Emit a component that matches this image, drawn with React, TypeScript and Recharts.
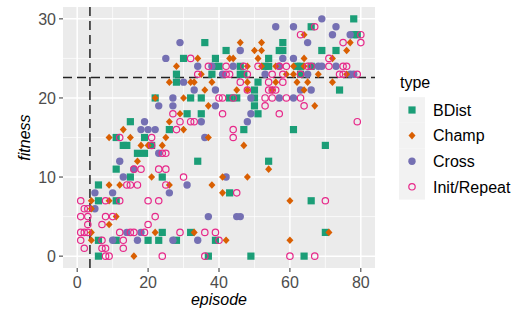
import React from "react";
import {
  ScatterChart,
  Scatter,
  XAxis,
  YAxis,
  CartesianGrid,
  ReferenceLine,
} from "recharts";

// [episode, fitness]
const bdist: [number, number][] = [
  [6, 0], [37, 0], [49, 0], [64, 0],
  [6, 2], [11, 2], [20, 2], [23, 2], [28, 2], [39, 2],
  [24, 3], [32, 3], [70, 3],
  [6, 7], [11, 7], [66, 7],
  [43, 8], [6, 9], [15, 10], [24, 10], [11, 11],
  [34, 12], [54, 12], [17, 13], [19, 13],
  [13, 14], [14, 14], [21, 14], [70, 14],
  [11, 15], [19, 15], [47, 16], [61, 16], [26, 16], [15, 17],
  [31, 18], [35, 18], [51, 18], [50, 19],
  [22, 20], [32, 20], [35, 20], [43, 20], [45, 20], [50, 20],
  [50, 21], [74, 21], [28, 22], [51, 22],
  [28, 23], [38, 23], [46, 23], [47, 23], [63, 23],
  [39, 24], [40, 24], [46, 24], [53, 24], [54, 24], [62, 24], [63, 24], [66, 24],
  [30, 25], [39, 25], [54, 25],
  [42, 26], [57, 26], [58, 26], [69, 26], [73, 26],
  [36, 27], [58, 27], [66, 29], [78, 28], [79, 28], [78, 30],
];

const champ: [number, number][] = [
  [16, 0], [4, 2], [42, 2], [60, 2],
  [4, 3], [22, 3], [33, 3], [71, 3],
  [9, 4], [11, 5], [4, 6], [4, 7], [9, 7], [60, 7], [41, 8],
  [9, 9], [12, 9], [26, 9], [38, 9],
  [21, 10], [41, 10], [48, 10], [54, 11], [17, 12],
  [18, 14], [20, 14], [24, 14], [47, 14],
  [9, 15], [15, 15], [25, 15], [37, 15],
  [13, 16], [30, 16], [26, 17], [29, 18],
  [37, 19], [67, 19], [22, 20], [30, 20],
  [36, 21], [45, 21], [48, 21], [55, 21], [64, 21],
  [26, 22], [32, 22], [33, 22], [38, 22], [48, 22], [56, 22], [62, 22], [65, 22], [72, 22],
  [35, 23], [59, 23], [61, 23], [68, 23], [76, 23],
  [28, 24], [48, 24], [52, 24], [56, 24], [61, 24], [64, 24],
  [34, 25], [43, 25], [44, 25], [51, 25], [64, 25], [72, 25],
  [50, 26], [52, 26], [76, 26],
  [46, 27], [52, 27], [77, 27], [64, 28],
];

const cross: [number, number][] = [
  [10, 2], [17, 2], [27, 2], [34, 2], [14, 3], [18, 3],
  [37, 5], [45, 5], [46, 5], [5, 6],
  [5, 8], [10, 8], [26, 8], [31, 9],
  [13, 10], [42, 10], [16, 11], [12, 12], [23, 13], [36, 15],
  [18, 16], [20, 16], [22, 16],
  [19, 17], [35, 17], [48, 17], [49, 18],
  [23, 19], [27, 19], [39, 19],
  [27, 20], [49, 20], [57, 20], [61, 20],
  [33, 21], [39, 21], [63, 21], [66, 21], [30, 22],
  [41, 23], [53, 23], [65, 23], [77, 23], [78, 23],
  [34, 24], [38, 24], [44, 24], [57, 24], [68, 24], [69, 24], [73, 24],
  [25, 25], [58, 25], [61, 25], [46, 26],
  [29, 27], [65, 27], [72, 28], [77, 28],
  [56, 29], [61, 29], [73, 29], [69, 30],
];

const initRepeat: [number, number][] = [
  [8, 0], [9, 0], [24, 0], [36, 0], [60, 0], [67, 0],
  [2, 1], [7, 1], [8, 1], [13, 1],
  [1, 2], [7, 2], [13, 2], [40, 2],
  [1, 3], [2, 3], [3, 3], [12, 3], [15, 3], [16, 3], [19, 3], [29, 3], [36, 3], [39, 3],
  [3, 4], [7, 4], [20, 4],
  [1, 5], [3, 5], [8, 5], [10, 5], [22, 5],
  [2, 6], [3, 6],
  [1, 7], [8, 7], [12, 7], [20, 7], [23, 7], [70, 7],
  [45, 8], [14, 9], [15, 9], [17, 9], [25, 9], [30, 10],
  [16, 11], [18, 11], [23, 11], [25, 11], [24, 13], [25, 13],
  [21, 14], [12, 15], [21, 15], [44, 15],
  [28, 16], [44, 16], [29, 17], [32, 17], [33, 17], [79, 17],
  [27, 18], [41, 18], [57, 18], [53, 19], [64, 19],
  [40, 20], [41, 20], [44, 20], [53, 20], [55, 20], [59, 20], [63, 20],
  [48, 21], [54, 21], [55, 21], [56, 21],
  [46, 22], [54, 22], [58, 22],
  [34, 23], [42, 23], [43, 23], [48, 23], [55, 23], [58, 23], [63, 23], [74, 23], [75, 23], [79, 23],
  [37, 24], [42, 24], [47, 24], [51, 24], [57, 24], [59, 24], [65, 24], [66, 24], [71, 24], [75, 24], [76, 24],
  [32, 25], [71, 25], [75, 27], [80, 27], [63, 28], [80, 28], [67, 29],
];

const typeNames = ["BDist", "Champ", "Cross", "Init/Repeat"];
const xTicks = [0, 20, 40, 60, 80];
const yTicks = [0, 10, 20, 30];
const xMinor = [10, 30, 50, 70];
const yMinor = [5, 15, 25];
const episodeCut = 3.6;
const fitnessCut = 22.6;

const FONT = "'Liberation Sans', Arial, Helvetica, sans-serif";
const colors = ["#1B9E77", "#D95F02", "#7570B3", "#E7298A"];

const toPoints = (pairs: [number, number][]) => pairs.map(([x, y]) => ({ x, y }));

function Marker({ kind, cx, cy }: { kind: number; cx: number; cy: number }) {
  if (kind === 0)
    return <rect x={cx - 3.6} y={cy - 3.6} width={7.2} height={7.2} fill={colors[0]} />;
  if (kind === 1)
    return (
      <polygon
        points={`${cx},${cy - 3.8} ${cx + 3.5},${cy} ${cx},${cy + 3.8} ${cx - 3.5},${cy}`}
        fill={colors[1]}
      />
    );
  if (kind === 2) return <circle cx={cx} cy={cy} r={3.7} fill={colors[2]} />;
  return <circle cx={cx} cy={cy} r={3.2} fill="none" stroke={colors[3]} strokeWidth={1.2} />;
}

const shapeFor = (kind: number) => (props: any) =>
  <Marker kind={kind} cx={props.cx} cy={props.cy} />;

const tickStyle = { fontSize: 16, fill: "#4D4D4D", fontFamily: FONT };

export default function App() {
  const series = [bdist, champ, cross, initRepeat];
  const drawOrder = [0, 2, 1, 3];
  return (
    <div style={{ position: "absolute", left: 0, top: 0, width: 526, height: 316, background: "#fff" }}>
      <ScatterChart
        width={526}
        height={316}
        margin={{ top: 7, right: 151, bottom: 18, left: 23 }}
      >
        <CartesianGrid
          fill="#EBEBEB"
          stroke="#FFFFFF"
          strokeWidth={0.7}
          horizontalValues={yMinor}
          verticalValues={xMinor}
        />
        <CartesianGrid
          stroke="#FFFFFF"
          strokeWidth={1.5}
          horizontalValues={yTicks}
          verticalValues={xTicks}
        />
        <XAxis
          type="number"
          dataKey="x"
          domain={[-4, 84]}
          ticks={xTicks}
          allowDataOverflow
          height={30}
          axisLine={false}
          tickSize={4}
          tickMargin={5}
          tickLine={{ stroke: "#333333" }}
          tick={tickStyle}
        />
        <YAxis
          type="number"
          dataKey="y"
          domain={[-1.5, 31.5]}
          ticks={yTicks}
          allowDataOverflow
          width={40}
          axisLine={false}
          tickSize={4}
          tickMargin={3}
          tickLine={{ stroke: "#333333" }}
          tick={tickStyle}
        />
        {drawOrder.map((k) => (
          <Scatter
            key={typeNames[k]}
            name={typeNames[k]}
            data={toPoints(series[k])}
            shape={shapeFor(k)}
            isAnimationActive={false}
          />
        ))}
        <ReferenceLine x={episodeCut} stroke="#222" strokeWidth={1.5} strokeDasharray="9 5" />
        <ReferenceLine y={fitnessCut} stroke="#222" strokeWidth={1.5} strokeDasharray="9 5" />
      </ScatterChart>
      <svg
        width={526}
        height={316}
        style={{ position: "absolute", left: 0, top: 0, pointerEvents: "none" }}
        fontFamily={FONT}
      >
        <text x={219} y={305} textAnchor="middle" fontSize={16} fontStyle="italic" fill="#000">
          episode
        </text>
        <text
          x={0}
          y={0}
          transform="translate(29.5,137.5) rotate(-90)"
          textAnchor="middle"
          fontSize={16}
          fontStyle="italic"
          fill="#000"
        >
          fitness
        </text>
        <text x={400} y={88} fontSize={16} fill="#000">
          type
        </text>
        {typeNames.map((name, i) => {
          const cy = 110 + i * 25.6;
          return (
            <g key={name}>
              <rect x={399} y={cy - 12.8} width={26} height={25.6} fill="#F2F2F2" />
              <Marker kind={i} cx={412} cy={cy} />
              <text x={433} y={cy + 5.8} fontSize={16} fill="#000">
                {name}
              </text>
            </g>
          );
        })}
      </svg>
    </div>
  );
}
